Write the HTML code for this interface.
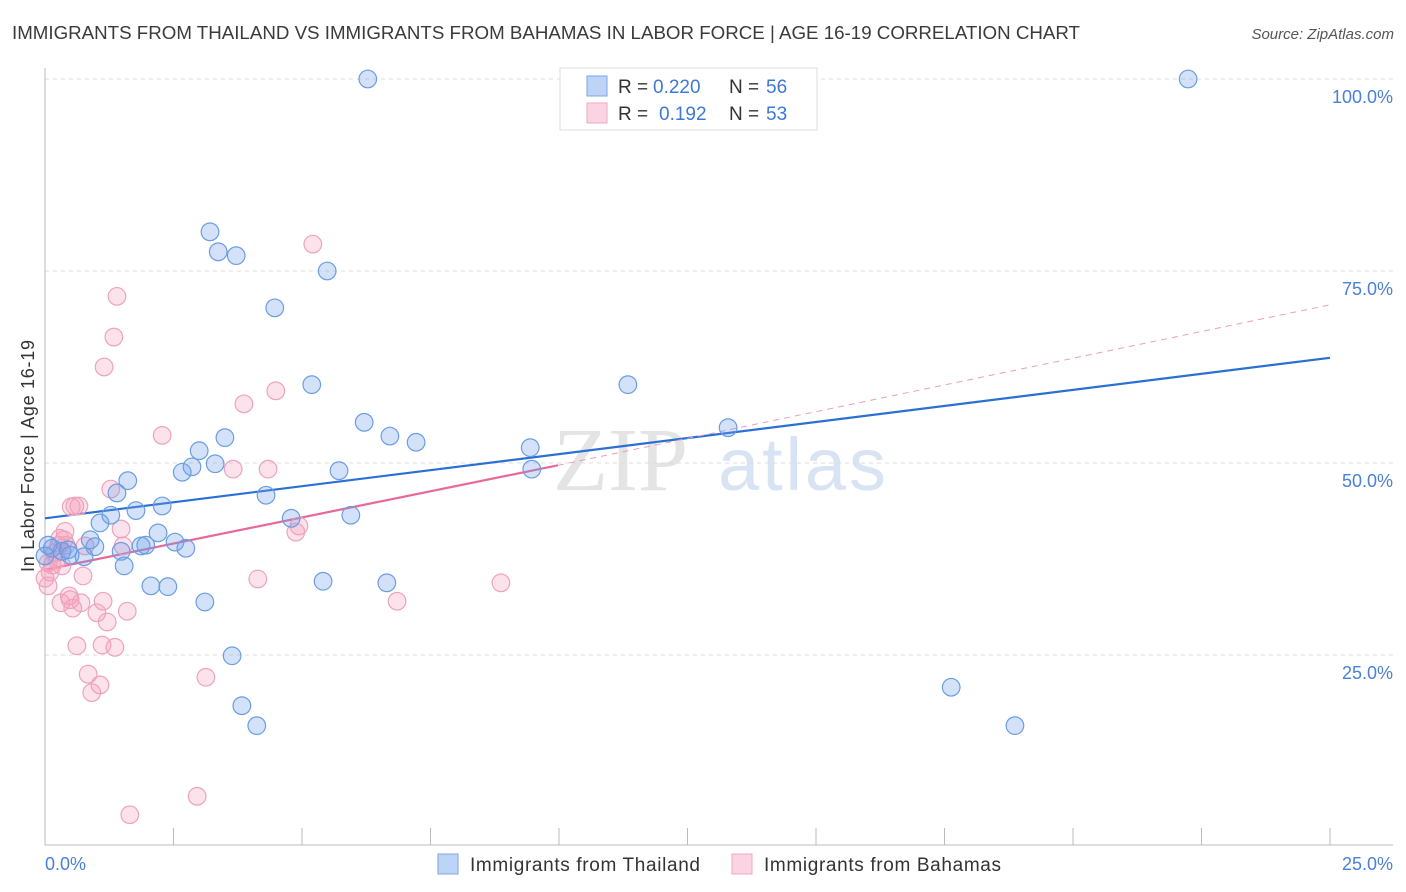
<!DOCTYPE html>
<html><head><meta charset="utf-8"><style>
body{margin:0;background:#fff;font-family:"Liberation Sans",sans-serif}
svg{display:block}
</style></head><body>
<svg id="chart" width="1406" height="892" xmlns="http://www.w3.org/2000/svg" font-family="Liberation Sans, sans-serif">
<text x="12" y="39" font-size="18" fill="#3a3a3a" textLength="1068" lengthAdjust="spacingAndGlyphs">IMMIGRANTS FROM THAILAND VS IMMIGRANTS FROM BAHAMAS IN LABOR FORCE | AGE 16-19 CORRELATION CHART</text>
<text x="1394" y="39" font-size="15" fill="#555" font-style="italic" text-anchor="end">Source: ZipAtlas.com</text>
<g>
<text x="553" y="490" font-size="90" font-family="Liberation Serif, serif" fill="#e4e4e4">ZIP</text>
<text x="718" y="490" font-size="74" fill="#d8e4f3" textLength="168">atlas</text>
</g>
<g id="grid"></g>
<g id="axes"></g>
<g id="trends"></g>
<g id="points"></g>
<text transform="translate(34,456) rotate(-90)" font-size="18" fill="#333" text-anchor="middle" textLength="232">In Labor Force | Age 16-19</text>
<g>
<rect x="560" y="68" width="257" height="62" fill="#fff" stroke="#ddd"/>
<rect x="587" y="76" width="20" height="20" fill="rgba(110,160,235,0.45)" stroke="#7aa6e6"/>
<rect x="587" y="103" width="20" height="20" fill="rgba(245,160,190,0.45)" stroke="#f0a8c0"/>
<text x="618" y="93" font-size="19" fill="#333">R =</text>
<text x="653" y="93" font-size="19" fill="#3d78d8">0.220</text>
<text x="729" y="93" font-size="19" fill="#333">N =</text>
<text x="766" y="93" font-size="19" fill="#3d78d8">56</text>
<text x="618" y="120" font-size="19" fill="#333">R =</text>
<text x="659" y="120" font-size="19" fill="#3d78d8">0.192</text>
<text x="729" y="120" font-size="19" fill="#333">N =</text>
<text x="766" y="120" font-size="19" fill="#3d78d8">53</text>
</g>
<g>
<rect x="438" y="854" width="20" height="20" fill="rgba(110,160,235,0.45)" stroke="#7aa6e6"/>
<text x="470" y="871" font-size="19" fill="#333" textLength="230">Immigrants from Thailand</text>
<rect x="732" y="854" width="20" height="20" fill="rgba(245,160,190,0.45)" stroke="#f0a8c0"/>
<text x="764" y="871" font-size="19" fill="#333" textLength="237">Immigrants from Bahamas</text>
</g>
</svg>
<script>
const yTicks=[25,50,75,100];
const yTickLabels=["25.0%","50.0%","75.0%","100.0%"];
const xTickLabels=["0.0%","25.0%"];
const blueX=[6.28,22.24,3.21,3.37,3.72,5.49,4.47,5.19,11.34,6.21,6.71,7.22,13.29,9.44,3.00,3.50,2.86,2.67,3.31,5.72,9.47,1.61,1.40,4.30,2.28,1.77,1.28,1.07,4.79,5.95,2.20,2.53,2.74,0.88,1.87,1.96,1.48,0.97,0.76,0.49,0.33,0.14,0.06,0.00,1.54,2.06,2.39,5.41,6.65,3.11,3.64,3.83,4.12,17.63,18.87,0.45];
const blueY=[100,100,80.1,77.5,77.0,75.0,70.2,60.2,60.2,55.3,53.5,52.7,54.6,52.0,51.6,53.3,49.5,48.8,49.9,49.0,49.2,47.7,46.1,45.8,44.4,43.8,43.2,42.2,42.8,43.2,40.9,39.7,38.9,40.0,39.2,39.3,38.5,39.1,37.8,38.0,38.5,38.9,39.3,37.9,36.6,34.0,33.9,34.6,34.4,31.9,24.9,18.4,15.8,20.8,15.8,38.7];
const pinkX=[5.21,1.40,1.34,1.15,2.28,3.87,4.49,3.66,4.34,1.28,0.66,0.51,0.58,1.48,0.39,4.94,4.88,1.52,0.29,0.78,0.41,0.27,0.19,0.23,0.06,0.10,0.06,0.74,8.87,4.14,0.31,0.49,0.47,0.54,0.70,1.13,1.01,1.60,1.21,6.85,0.62,1.11,1.36,0.84,1.07,0.91,3.13,2.96,1.65,0.14,0.00,0.33,0.37];
const pinkY=[78.5,71.7,66.4,62.5,53.6,57.7,59.4,49.2,49.2,46.6,44.4,44.3,44.4,41.4,41.1,41.8,41.0,39.2,40.2,39.2,39.3,39.3,38.3,37.4,37.0,35.8,34.0,35.3,34.4,34.9,31.8,32.2,32.7,31.1,31.8,32.0,30.5,30.7,29.3,32.0,26.2,26.3,26.0,22.5,21.1,20.1,22.1,6.6,4.2,36.7,35.0,36.6,40.0];
const blueTrendX=[0,25], blueTrendY=[42.8,63.7];
const pinkTrendX=[0,9.98], pinkTrendY=[36.1,49.7];
const pinkDashX=[9.98,25], pinkDashY=[49.7,70.6];

const X0=45,X1=1330,Y0=847,Y100=79;
const sx=v=>X0+(X1-X0)*v/25;
const sy=v=>Y0-(Y0-Y100)*v/100;
const NS="http://www.w3.org/2000/svg";
function mk(tag,attrs,parent){const e=document.createElementNS(NS,tag);for(const k in attrs)e.setAttribute(k,attrs[k]);parent.appendChild(e);return e;}
const grid=document.getElementById('grid'),axes=document.getElementById('axes'),trends=document.getElementById('trends'),pts=document.getElementById('points');
yTicks.forEach((t,i)=>{
 const l=mk('line',{x1:X0,x2:1393,y1:sy(t),y2:sy(t),stroke:'#ddd','stroke-dasharray':'4,4'},grid);
 
 
 const tx=mk('text',{x:1393,y:sy(t)+24,'font-size':18,fill:'#4a80d8','text-anchor':'end'},axes);
 tx.textContent=yTickLabels[i];
 
 
});
mk('line',{x1:X0,x2:X0,y1:68,y2:845,stroke:'#bbb'},axes);
mk('line',{x1:X0,x2:1393,y1:845,y2:845,stroke:'#bbb'},axes);
for(let i=0;i<=10;i++){const x=sx(i*2.5);const t=mk('line',{x1:x,x2:x,y1:828,y2:845,stroke:'#bbb'},axes);
 
 }
const xl0=mk('text',{x:45,y:870,'font-size':18,fill:'#4a80d8'},axes);xl0.textContent=xTickLabels[0];


const xl1=mk('text',{x:1393,y:870,'font-size':18,fill:'#4a80d8','text-anchor':'end'},axes);xl1.textContent=xTickLabels[1];


function dot(x,y,fill,stroke,name){const c=mk('circle',{cx:sx(x),cy:sy(y),r:8.8,fill:fill,stroke:stroke,'stroke-width':1.2},pts);
 
 }
pinkX.forEach((x,i)=>dot(x,pinkY[i],'rgba(245,160,190,0.3)','#eea3bb','bahamas-point'));
blueX.forEach((x,i)=>dot(x,blueY[i],'rgba(110,160,235,0.3)','#6b9de3','thailand-point'));
const tb=mk('line',{x1:sx(blueTrendX[0]),y1:sy(blueTrendY[0]),x2:sx(blueTrendX[1]),y2:sy(blueTrendY[1]),stroke:'#2a6fd6','stroke-width':2.2},trends);


const tp=mk('line',{x1:sx(pinkTrendX[0]),y1:sy(pinkTrendY[0]),x2:sx(pinkTrendX[1]),y2:sy(pinkTrendY[1]),stroke:'#e8689a','stroke-width':2.2},trends);


const td=mk('line',{x1:sx(pinkDashX[0]),y1:sy(pinkDashY[0]),x2:sx(pinkDashX[1]),y2:sy(pinkDashY[1]),stroke:'#e8a0b8','stroke-width':1,'stroke-dasharray':'6,5'},trends);


</script>
</body></html>
